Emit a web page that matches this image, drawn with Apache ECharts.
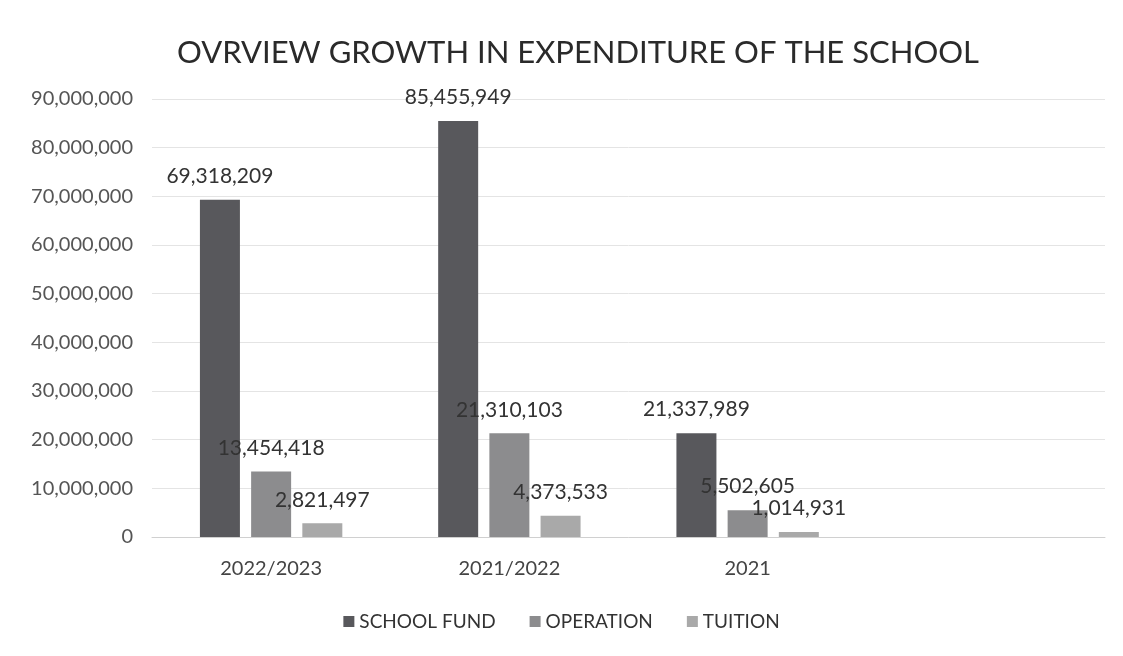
<!DOCTYPE html>
<html>
<head>
<meta charset="utf-8">
<style>
  html, body { margin: 0; padding: 0; background: #fff; }
  #chart { width: 1123px; height: 656px; }
</style>
<script src="https://cdn.jsdelivr.net/npm/echarts@6/dist/echarts.min.js"></script>
</head>
<body>
<div id="chart"></div>
<script>
// data
var years = ['2022/2023', '2021/2022', '2021', ''];
var schoolFund = [69318209, 85455949, 21337989, null];
var operation = [13454418, 21310103, 5502605, null];
var tuition = [2821497, 4373533, 1014931, null];

var font = 'Lato, "Open Sans", sans-serif';
var chart = echarts.init(document.getElementById('chart'));

function fmt(v) {
    return Number(v).toLocaleString('en-US');
}

function barSeries(name, data, color) {
    return {
        name: name,
        type: 'bar',
        data: data,
        barWidth: 40,
        barGap: '28%',
        itemStyle: { color: color },
        label: {
            show: true,
            position: 'top',
            distance: 13,
            color: '#333',
            fontSize: 21,
            fontFamily: font,
            formatter: function (p) { return fmt(p.value); }
        }
    };
}

chart.setOption({
    animation: false,
    title: {
        text: 'OVRVIEW GROWTH IN EXPENDITURE OF THE SCHOOL',
        left: 172,
        top: 32,
        textStyle: { color: '#2a2a2a', fontSize: 31, fontWeight: 'normal', fontFamily: font }
    },
    legend: {
        bottom: 20,
        left: 'center',
        icon: 'rect',
        itemWidth: 11,
        itemHeight: 11,
        itemGap: 34,
        selectedMode: false,
        textStyle: { color: '#333', fontSize: 19, fontFamily: font },
        data: ['SCHOOL FUND', 'OPERATION', 'TUITION']
    },
    grid: { left: 152, right: 18, top: 99, bottom: 119 },
    xAxis: {
        type: 'category',
        data: years,
        axisLine: { lineStyle: { color: '#d0d0d0' } },
        axisTick: { show: false },
        axisLabel: { color: '#444', fontSize: 20, fontFamily: font, margin: 22 }
    },
    yAxis: {
        type: 'value',
        min: 0,
        max: 90000000,
        interval: 10000000,
        axisLine: { show: false },
        axisTick: { show: false },
        splitLine: { lineStyle: { color: '#e4e4e4' } },
        axisLabel: {
            color: '#555',
            fontSize: 20,
            fontFamily: font,
            margin: 19,
            formatter: function (v) { return fmt(v); }
        }
    },
    series: [
        barSeries('SCHOOL FUND', schoolFund, '#58585c'),
        barSeries('OPERATION', operation, '#8c8c8e'),
        barSeries('TUITION', tuition, '#a9a9a9')
    ]
});
</script>
</body>
</html>
